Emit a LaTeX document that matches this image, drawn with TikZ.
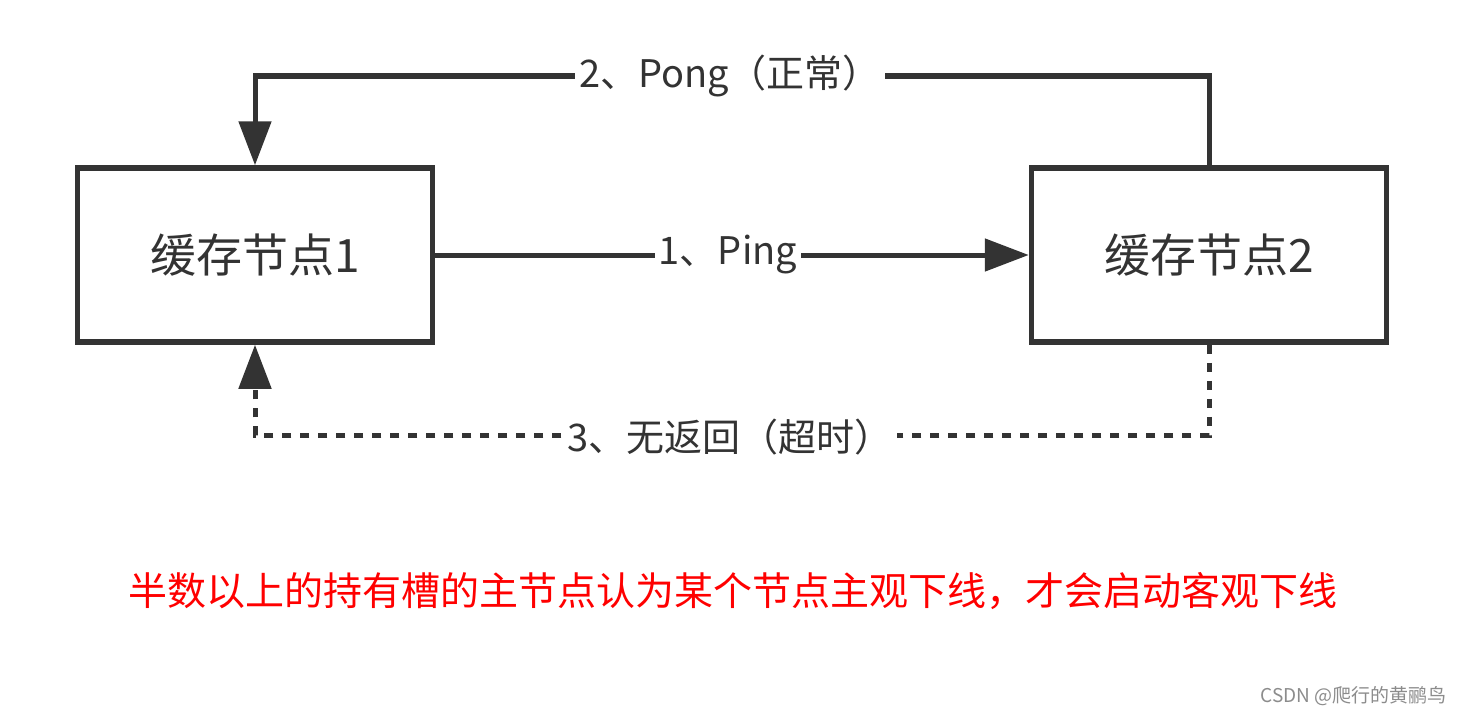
\documentclass[tikz,border=0pt]{standalone}
\usepackage{fontspec}
\setmainfont{Noto Sans CJK SC}
\usetikzlibrary{arrows.meta}
\definecolor{ink}{HTML}{333333}
\begin{document}
\begin{tikzpicture}[x=1pt,y=-1pt,
  box/.style={draw=ink,line width=5.5pt,minimum width=355pt,minimum height=174pt,inner sep=0pt,font=\fontsize{46}{50}\selectfont,text=ink},
  conn/.style={draw=ink,line width=5pt},
  dotline/.style={conn,dash pattern=on 9pt off 9pt},
  tip/.style={-{Triangle[length=44pt,width=32pt]}},
  lbl/.style={fill=white,inner sep=4pt,font=\fontsize{38}{42}\selectfont,text=ink},
  note/.style={font=\fontsize{39}{44}\selectfont,text=red},
  credit/.style={font=\fontsize{19}{22}\selectfont,text=black!45}]
\useasboundingbox (0,0) rectangle (1464,717);
\fill[white] (0,0) rectangle (1464,717);
\node[box] (b1) at (255,255) {缓存节点1};
\node[box] (b2) at (1209,255) {缓存节点2};
\coordinate (pr) at (1209,76);
\coordinate (pl) at (255,76);
\coordinate (tr) at (1209,435);
\coordinate (tl) at (255,435);
% 1 Ping
\draw[conn,tip] (b1.east) -- (b2.west) node[lbl,pos=0.5,xshift=-4pt] (l1) {1、Ping};
% 2 Pong
\draw[conn,tip] (b2.north) -- (pr) -- (pl) -- (b1.north);
\node[lbl] (l2) at (730,76) {2、Pong（正常）};
% 3 timeout
\draw[dotline,tip] (b2.south) -- (tr) -- (tl) -- (b1.south);
\node[lbl] (l3) at (730,437) {3、无返回（超时）};
\node[note] (n) at (733,591) {半数以上的持有槽的主节点认为某个节点主观下线，才会启动客观下线};
\node[credit,anchor=east] (c) at (1450,696) {CSDN @爬行的黄鹂鸟};
\end{tikzpicture}
\end{document}
